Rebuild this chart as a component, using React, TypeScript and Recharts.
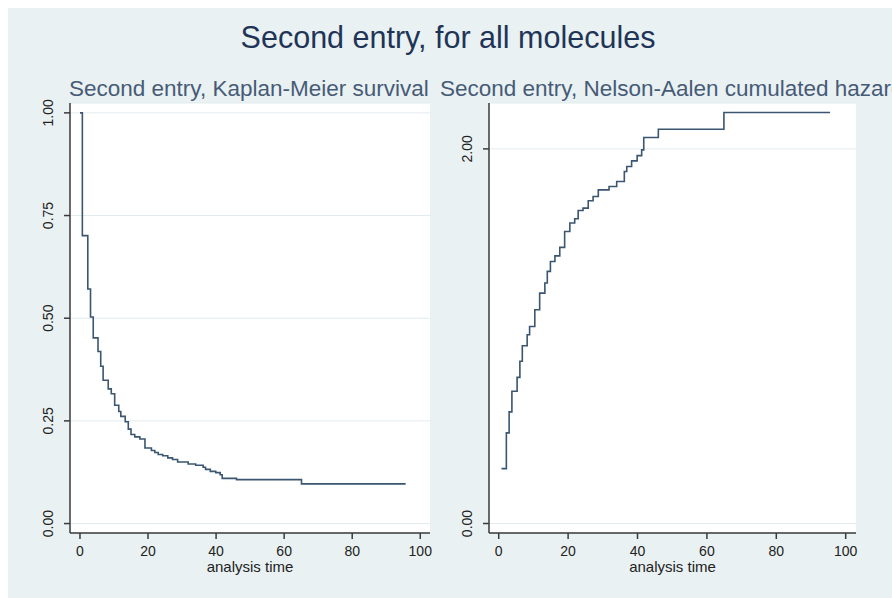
import React from 'react';
import { LineChart, Line, XAxis, YAxis, CartesianGrid } from 'recharts';

// Kaplan-Meier survival estimate (time, survival)
const kmTime = [0, 0.7, 2.3, 3.1, 3.9, 5.3, 6.1, 6.8, 8.3, 9.2, 10.2, 11.4, 12.0, 13.3, 14.2, 15.0, 16.1, 17.6, 19.1, 21.0, 22.0, 23.0, 24.3, 25.8, 27.2, 28.7, 31.8, 34.0, 36.2, 36.9, 38.3, 39.9, 41.2, 41.8, 46.0, 65.1, 95.7];
const kmSurv = [1.0, 0.701, 0.571, 0.503, 0.452, 0.419, 0.383, 0.349, 0.328, 0.316, 0.288, 0.273, 0.261, 0.248, 0.23, 0.217, 0.211, 0.206, 0.184, 0.178, 0.173, 0.168, 0.165, 0.16, 0.156, 0.15, 0.145, 0.142, 0.137, 0.132, 0.127, 0.124, 0.119, 0.11, 0.107, 0.0966, 0.0966];

// Nelson-Aalen cumulative hazard (time, hazard), right panel
const naTime = [0.8, 2.2, 3.0, 3.8, 5.3, 6.1, 6.8, 8.2, 8.9, 10.4, 11.8, 13.3, 14.0, 14.9, 16.2, 17.6, 19.0, 20.5, 21.9, 22.9, 24.3, 25.8, 27.2, 28.7, 31.8, 34.0, 36.2, 36.9, 38.3, 39.9, 41.2, 41.8, 46.0, 64.9, 95.5];
const naHaz = [0.293, 0.484, 0.596, 0.706, 0.78, 0.866, 0.949, 1.008, 1.052, 1.141, 1.23, 1.284, 1.346, 1.399, 1.429, 1.474, 1.559, 1.604, 1.627, 1.671, 1.684, 1.723, 1.746, 1.781, 1.799, 1.826, 1.879, 1.906, 1.936, 1.964, 1.995, 2.061, 2.105, 2.194, 2.194];

const xTicks = [0, 20, 40, 60, 80, 100];
const kmTicks = [0, 0.25, 0.5, 0.75, 1];
const naTicks = [0, 2];

const title = 'Second entry, for all molecules';
const kmSubtitle = 'Second entry, Kaplan-Meier survival';
const naSubtitle = 'Second entry, Nelson-Aalen cumulated hazard';
const xLabel = 'analysis time';

const FONT = '"Liberation Sans", Arial, Helvetica, sans-serif';
const BG = '#e9f1f2';
const LINE = '#3a5670';
const AXIS = '#3a3a3a';
const GRID = '#e2ecee';

const kmData = kmTime.map((t, i) => ({ t, v: kmSurv[i] }));
const naData = naTime.map((t, i) => ({ t, v: naHaz[i] }));

// rotated y tick label, baseline placed at a fixed x
const RotTick = (props: any) => {
  const { y, payload, bx } = props;
  return (
    <text
      x={bx}
      y={y}
      transform={`rotate(-90, ${bx}, ${y})`}
      textAnchor="middle"
      fontSize={14}
      fontFamily={FONT}
      fill="#222"
    >
      {Number(payload.value).toFixed(2)}
    </text>
  );
};

interface PanelProps {
  data: { t: number; v: number }[];
  width: number;
  margin: { top: number; right: number; bottom: number; left: number };
  yDomain: [number, number];
  yTicks: number[];
  xDomain: [number, number];
  labelX: number;
}

const Panel: React.FC<PanelProps> = ({ data, width, margin, yDomain, yTicks, xDomain, labelX }) => (
  <LineChart width={width} height={590} data={data} margin={margin}>
    <CartesianGrid vertical={false} horizontal stroke={GRID} fill="#ffffff" />
    <XAxis
      dataKey="t"
      type="number"
      domain={xDomain}
      ticks={xTicks}
      allowDataOverflow
      height={48}
      tickSize={6}
      tickMargin={7}
      stroke={AXIS}
      strokeWidth={1.5}
      tick={{ fontSize: 14, fontFamily: FONT, fill: '#222' }}
      label={{ value: xLabel, position: 'insideBottom', offset: 9, fontSize: 15, fontFamily: FONT, fill: '#222' }}
    />
    <YAxis
      type="number"
      domain={yDomain}
      ticks={yTicks}
      allowDataOverflow
      width={40}
      tickSize={6}
      stroke={AXIS}
      strokeWidth={1.5}
      tick={(p: any) => <RotTick {...p} bx={labelX} />}
    />
    <Line
      type="stepAfter"
      dataKey="v"
      stroke={LINE}
      strokeWidth={1.6}
      dot={false}
      isAnimationActive={false}
    />
  </LineChart>
);

export default function App() {
  return (
    <div style={{ position: 'relative', width: 892, height: 598, background: '#fff' }}>
      <style>{'html, body { margin: 0; padding: 0; overflow: hidden; }'}</style>
      <div style={{ position: 'absolute', left: 8, top: 8, width: 884, height: 590, background: BG, overflow: 'hidden' }}>
        <svg width={884} height={590} style={{ position: 'absolute', left: 0, top: 0 }}>
          <text x={440} y={40} textAnchor="middle" fontSize={30.5} fontFamily={FONT} fill="#1f3457">
            {title}
          </text>
          <text x={61} y={88} fontSize={22.5} fontFamily={FONT} fill="#475b77">
            {kmSubtitle}
          </text>
          <text x={432} y={88} fontSize={22.5} fontFamily={FONT} fill="#475b77">
            {naSubtitle}
          </text>
        </svg>
        <div style={{ position: 'absolute', left: 0, top: 0 }}>
          <Panel
            data={kmData}
            width={440}
            margin={{ top: 95, right: 18, bottom: 17, left: 22 }}
            yDomain={[-0.023, 1.024]}
            yTicks={kmTicks}
            xDomain={[-2.93, 102.86]}
            labelX={45}
          />
        </div>
        <div style={{ position: 'absolute', left: 432, top: 0 }}>
          <Panel
            data={naData}
            width={424}
            margin={{ top: 95, right: 8, bottom: 17, left: 9 }}
            yDomain={[-0.0507, 2.245]}
            yTicks={naTicks}
            xDomain={[-2.8, 102.97]}
            labelX={32}
          />
        </div>
      </div>
    </div>
  );
}
